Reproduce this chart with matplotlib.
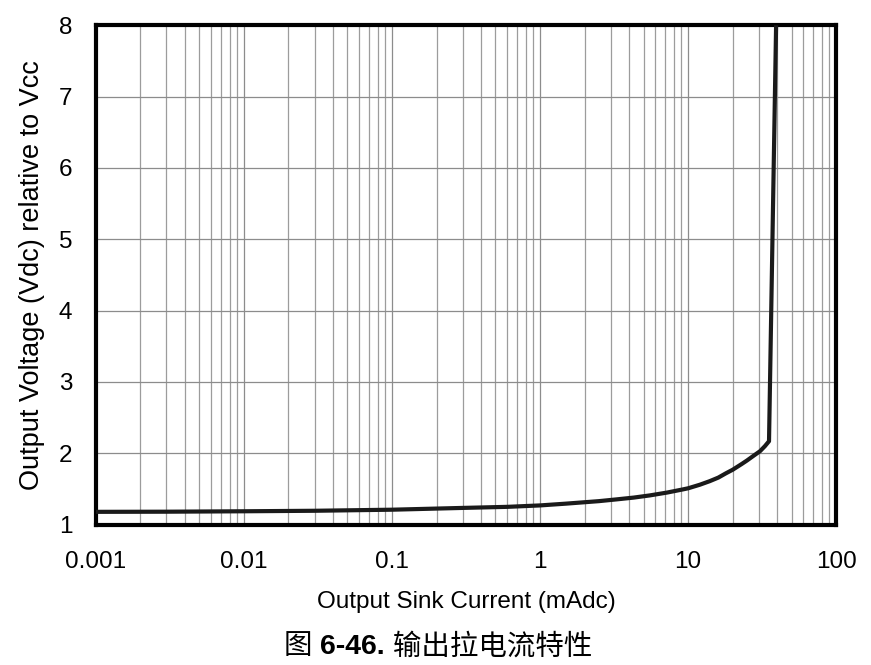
import matplotlib
matplotlib.use('Agg')
import matplotlib.pyplot as plt
import numpy as np

plt.rcParams['font.family'] = ['Liberation Sans', 'Noto Sans CJK SC', 'DejaVu Sans']

# curve
current_ma = [0.001, 0.003, 0.01, 0.03, 0.1, 0.3, 0.6, 1, 1.5, 2.5, 3.3, 4.3, 5.5, 7.2, 9, 10, 12, 14, 16,
              18, 20, 23, 25, 27, 30.6, 33, 35.2, 39.3]
voltage = [1.18, 1.182, 1.188, 1.195, 1.21, 1.235, 1.25, 1.27, 1.295, 1.33, 1.355, 1.38, 1.41, 1.45, 1.49,
           1.51, 1.56, 1.61, 1.66, 1.72, 1.77, 1.85, 1.90, 1.95, 2.03, 2.10, 2.17, 8.0]

x_ticks = [0.001, 0.01, 0.1, 1, 10, 100]
x_ticklabels = ['0.001', '0.01', '0.1', '1', '10', '100']
y_ticks = [1, 2, 3, 4, 5, 6, 7, 8]

fig = plt.figure(figsize=(8.71, 6.65), dpi=100)
ax = fig.add_axes([0.110, 0.211, 0.850, 0.751])

ax.plot(current_ma, voltage, color='#1a1a1a', lw=3, solid_capstyle='butt', solid_joinstyle='round', zorder=3)

ax.set_xscale('log')
ax.set_xlim(0.001, 100)
ax.set_ylim(1, 8)
ax.set_xticks(x_ticks)
ax.set_xticklabels(x_ticklabels)
ax.set_yticks(y_ticks)
ax.xaxis.set_minor_locator(matplotlib.ticker.LogLocator(base=10, subs=np.arange(2, 10)))
ax.xaxis.set_minor_formatter(matplotlib.ticker.NullFormatter())
ax.tick_params(which='both', length=0, labelsize=17.5)
ax.tick_params(axis='x', pad=19)
ax.tick_params(axis='y', pad=17)

ax.grid(which='major', color='#8c8c8c', lw=0.9)
ax.grid(which='minor', axis='x', color='#9c9c9c', lw=0.9)
for s in ax.spines.values():
    s.set_linewidth(3)
    s.set_color('black')

ax.set_xlabel('Output Sink Current (mAdc)', fontsize=17.5, labelpad=13)
ax.set_ylabel('Output Voltage (Vdc) relative to Vcc', fontsize=19.5, labelpad=10)

# caption with bold figure number
fig.canvas.draw()
r = fig.canvas.get_renderer()
parts = [('图 ', 'normal'), ('6-46.', 'bold'), (' 输出拉电流特性', 'normal')]
texts = []
total = 0
for s, w in parts:
    t = fig.text(0, 0.016, s, fontsize=20.5, fontweight=w, va='baseline',
                 family=['Liberation Sans', 'Noto Sans CJK SC'])
    bb = t.get_window_extent(r)
    texts.append((t, bb.width))
    total += bb.width
x0 = 438 - total / 2
for t, wdt in texts:
    t.set_x(x0 / fig.bbox.width)
    x0 += wdt

fig.savefig('out.png', dpi=100)
